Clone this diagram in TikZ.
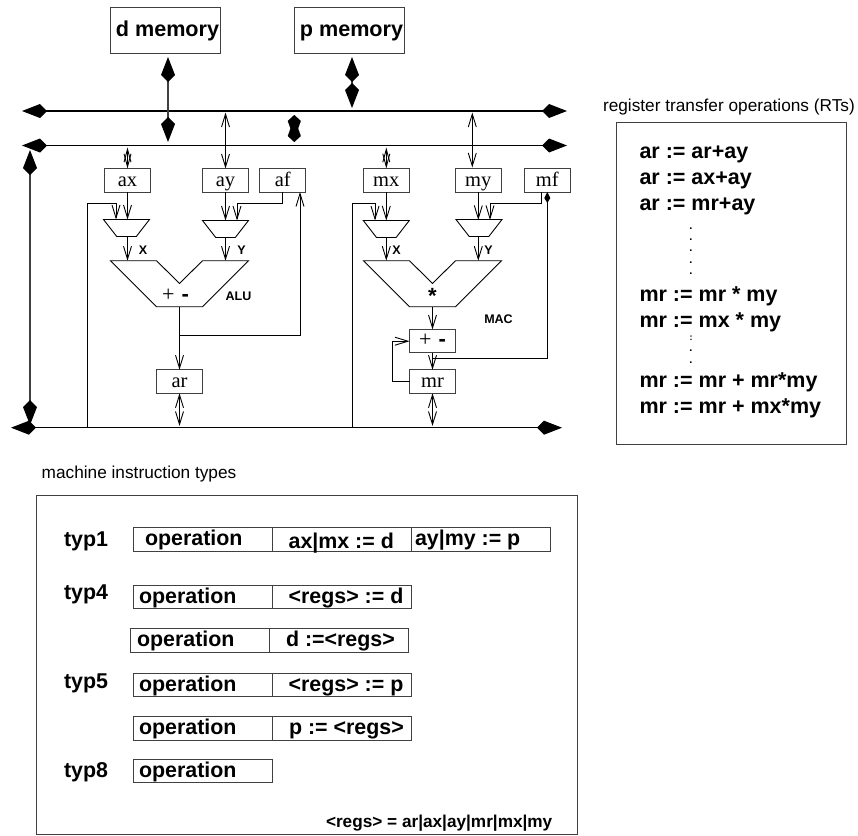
\documentclass[tikz,border=0pt]{standalone}
\usepackage{fontspec}
\setmainfont{Liberation Sans}
\newfontfamily\regfont{Liberation Serif}
\usetikzlibrary{arrows.meta,positioning,shapes.geometric}
\definecolor{wire}{gray}{0.25}
\begin{document}
\begin{tikzpicture}[
  x=1pt,y=-1pt,line join=miter,
  every node/.style={inner sep=0pt,outer sep=0pt},
  membox/.style={draw=wire,line width=1pt,minimum width=110pt,minimum height=46pt,
                 font=\fontsize{21.6}{24}\selectfont\bfseries,text height=16pt,text depth=5pt},
  regbox/.style={draw=wire,line width=1pt,minimum width=46pt,minimum height=23.5pt,
                 font=\fontsize{20.5}{24}\selectfont\regfont,text height=13.5pt,text depth=2pt},
  muxbox/.style={draw,line width=.9pt,trapezium,shape border rotate=180,trapezium stretches=true,
                 trapezium left angle=56,trapezium right angle=56,minimum width=46pt,minimum height=17pt,
                 inner sep=1pt},
  unit/.style={draw,line width=.9pt},
  bus/.style={line width=1.2pt,{Kite[length=25pt,width=14pt,inset=7pt]}-{Kite[length=25pt,width=14pt,inset=7pt]}},
  thickbus/.style={line width=1.5pt,draw=wire,{Kite[length=25pt,width=14pt,inset=7pt,black]}-{Kite[length=25pt,width=14pt,inset=7pt,black]}},
  stubby/.style={line width=.1pt,{Kite[length=24pt,width=13pt,inset=18pt]}-{Kite[length=24pt,width=13pt,inset=18pt]}},
  wired/.style={line width=.9pt},
  onearrow/.style={wired,-{Straight Barb[length=13pt,width=8pt]}},
  twoarrow/.style={wired,{Straight Barb[length=13pt,width=8pt]}-{Straight Barb[length=13pt,width=8pt]}},
  tinyarrow/.style={wired,{Straight Barb[length=13pt,width=7pt]}-{Straight Barb[length=13pt,width=7pt]}},
  smallkite/.style={wired,-{Kite[length=11pt,width=6pt,inset=5pt]}},
  tag/.style={font=\fontsize{12.5}{14}\selectfont\bfseries},
  caption/.style={anchor=base west,font=\fontsize{17.25}{20}\selectfont},
  rtline/.style={anchor=base west,font=\fontsize{21.5}{26}\selectfont\bfseries},
  rtdot/.style={anchor=base,font=\fontsize{11}{12}\selectfont\bfseries},
  frame/.style={draw=wire,line width=1pt,anchor=north west},
  opcell/.style={draw=wire,line width=1pt,minimum width=139pt,minimum height=23.5pt},
  instr/.style={anchor=base west,font=\fontsize{21.4}{24}\selectfont\bfseries},
]
% memories and buses
\node[membox] (dmem) at (165,30.5) {\hspace*{5pt}d memory};
\node[membox] (pmem) at (349,30.5) {\hspace*{5pt}p memory};
\coordinate (bus1w) at (22,111);
\coordinate (bus1e) at (567,111);
\coordinate (bus2w) at (22,145.5);
\coordinate (bus2e) at (567,145.5);
\coordinate (bus3w) at (11,427.7);
\coordinate (bus3e) at (562,427.7);
\draw[bus] (bus1w) -- (bus1e);
\draw[bus] (bus2w) -- (bus2e);
\draw[bus] (bus3w) -- (bus3e);
\coordinate (dtop) at (168,57);
\coordinate (dbot) at (168,142);
\coordinate (ptop) at (352,57);
\coordinate (pbot) at (352,108);
\coordinate (linktop) at (294.3,115);
\coordinate (linkbot) at (294.3,142);
\coordinate (sidetop) at (30,150);
\coordinate (sidebot) at (30,425);
\draw[thickbus] (dtop) -- (dbot);
\draw[thickbus] (ptop) -- (pbot);
\draw[thickbus] (sidetop) -- (sidebot);
\draw[stubby] (linktop) -- (linkbot);

% registers
\node[regbox] (ax) at (127.5,180.25) {ax};
\node[regbox] (ay) at (225.5,180.25) {ay};
\node[regbox] (af) at (282.75,180.25) {af};
\node[regbox] (mx) at (386.3,180.25) {mx};
\node[regbox] (my) at (478.3,180.25) {my};
\node[regbox] (mf) at (547.3,180.25) {mf};
\node[regbox] (ar) at (179.5,381.5) {ar};
\node[regbox] (mr) at (432.5,381.5) {mr};
\node[regbox,font=\fontsize{22}{24}\selectfont\regfont] (addsub) at (432.5,341.2) {+\hspace*{7pt}{\rmfamily\bfseries -}};

% multiplexers
\node[muxbox] (muxax) at (126.5,228) {};
\node[muxbox] (muxay) at (225.5,229) {};
\node[muxbox] (muxmx) at (386.3,229) {};
\node[muxbox] (muxmy) at (479,228) {};

% alu and multiplier
\draw[unit] (110.5,260.7) -- (156.5,260.7) -- (179.5,283.5) -- (202.5,260.7)
  -- (248.5,260.7) -- (202.5,306.7) -- (156.5,306.7) -- cycle;
\draw[unit] (363.5,260.7) -- (409.5,260.7) -- (432.5,283.5) -- (455.5,260.7)
  -- (501.5,260.7) -- (455.5,306.7) -- (409.5,306.7) -- cycle;
\node[font=\fontsize{22}{24}\selectfont\regfont] (aluop) at (175.5,295) {+\hspace*{7pt}{\rmfamily\bfseries -}};
\node[font=\fontsize{22}{24}\selectfont\bfseries] (macop) at (432.5,296) {*};
\node[tag] (xalu) at (143,250.5) {X};
\node[tag] (yalu) at (241.5,250.5) {Y};
\node[tag] (xmac) at (396.5,250.5) {X};
\node[tag] (ymac) at (488.5,250.5) {Y};
\node[tag] (alulabel) at (238.5,296.5) {ALU};
\node[tag] (maclabel) at (498.5,319.5) {MAC};

% register ports on the buses
\coordinate (axport) at (127.5,147.5);
\coordinate (mxport) at (386.3,147.5);
\coordinate (ayport) at (225.5,112.5);
\coordinate (myport) at (472.3,112.5);
\coordinate (mytop) at (472.3,167.5);
\coordinate (arport) at (179.5,426);
\coordinate (mrport) at (432.5,426);
\draw[tinyarrow] (axport) -- (ax.north);
\draw[tinyarrow] (mxport) -- (mx.north);
\draw[twoarrow] (ayport) -- (ay.north);
\draw[twoarrow] (myport) -- (mytop);
\draw[twoarrow] (ar.south) -- (arport);
\draw[twoarrow] (mr.south) -- (mrport);

% into the multiplexers
\coordinate (axin) at (127.5,219.5);
\coordinate (ayin) at (225.5,220.5);
\coordinate (mxin) at (386.3,220.5);
\coordinate (myin) at (478.3,220);
\draw[onearrow] (ax.south) -- (axin);
\draw[onearrow] (ay.south) -- (ayin);
\draw[onearrow] (mx.south) -- (mxin);
\draw[onearrow] (my.south) -- (myin);
\coordinate (axfeed) at (87.5,427.7);
\coordinate (axturn) at (116,203);
\coordinate (axside) at (116,219.5);
\coordinate (mxfeed) at (352.3,427.7);
\coordinate (mxturn) at (375,203);
\coordinate (mxside) at (375,220.5);
\coordinate (ayturn) at (237,203);
\coordinate (ayside) at (237,220.5);
\coordinate (mfout) at (541.7,192);
\coordinate (myturn) at (490,203);
\coordinate (myside) at (490,220);
\draw[onearrow] (axfeed) |- (axturn) -- (axside);
\draw[onearrow] (mxfeed) |- (mxturn) -- (mxside);
\draw[onearrow] (af.south) |- (ayturn) -- (ayside);
\draw[onearrow] (mfout) |- (myturn) -- (myside);

% out of the multiplexers
\coordinate (alua) at (127.5,260.7);
\coordinate (alub) at (225.5,260.7);
\coordinate (maca) at (386.3,260.7);
\coordinate (macb) at (478.3,260.7);
\draw[onearrow] (alua |- muxax.south) -- (alua);
\draw[onearrow] (alub |- muxay.south) -- (alub);
\draw[onearrow] (maca |- muxmx.south) -- (maca);
\draw[onearrow] (macb |- muxmy.south) -- (macb);

% results
\coordinate (aluout) at (179.5,306.7);
\coordinate (alubranch) at (179.5,335.3);
\coordinate (afin) at (300,192);
\draw[onearrow] (aluout) -- (ar.north);
\draw[onearrow] (alubranch) -| (afin);
\coordinate (macout) at (432.5,306.7);
\coordinate (macjoin) at (432.5,358);
\draw[onearrow] (macout) -- (addsub.north);
\draw[onearrow] (addsub.south) -- (mr.north);
\draw[smallkite] (macjoin) -| (mf.south);
\coordinate (fbturn) at (392,381.5);
\coordinate (fbup) at (392,341.2);
\draw[onearrow] (mr.west) -- (fbturn) -- (fbup) -- (addsub.west);

% register transfers
\node[caption] (rtcaption) at (603,111.5) {register transfer operations (RTs)};
\node[frame,minimum width=230pt,minimum height=321.5pt] (rtframe) at (616.7,122.7) {};
\node[rtline] (rt1) at (639.5,158.3) {ar := ar+ay};
\node[rtline] (rt2) at (639.5,184.3) {ar := ax+ay};
\node[rtline] (rt3) at (639.5,210) {ar := mr+ay};
\node[rtline] (rt4) at (639.5,301.7) {mr := mr * my};
\node[rtline] (rt5) at (639.5,327.3) {mr := mx * my};
\node[rtline] (rt6) at (639.5,387.7) {mr := mr + mr*my};
\node[rtline] (rt7) at (639.5,413.3) {mr := mr + mx*my};
\foreach \dy in {229,240,251,263,274,351,363}
  \node[rtdot] (rtdot\dy) at (691,\dy) {.};
\node[rtdot,font=\fontsize{9}{10}\selectfont\bfseries] (rtcolon) at (691,340) {:};

% instruction formats
\node[caption] (instcaption) at (41.7,478) {machine instruction types};
\node[frame,minimum width=540.5pt,minimum height=338.3pt] (instframe) at (36.8,495.7) {};
\node[opcell,anchor=north west] (op1) at (133,527.7) {};
\node[opcell,right=0pt of op1] (arg1a) {};
\node[opcell,right=0pt of arg1a] (arg1b) {};
\node[opcell,anchor=north west] (op4a) at (133,585.3) {};
\node[opcell,right=0pt of op4a] (arg4a) {};
\node[opcell,anchor=north west] (op4b) at (130.5,628.7) {};
\node[opcell,right=0pt of op4b] (arg4b) {};
\node[opcell,anchor=north west] (op5a) at (133,673.3) {};
\node[opcell,right=0pt of op5a] (arg5a) {};
\node[opcell,anchor=north west] (op5b) at (133,716.7) {};
\node[opcell,right=0pt of op5b] (arg5b) {};
\node[opcell,anchor=north west] (op8) at (133,759.3) {};
\node[instr] (typ1) at (64,546) {typ1};
\node[instr] (typ4) at (64,599.3) {typ4};
\node[instr] (typ5) at (64,688.7) {typ5};
\node[instr] (typ8) at (64,777.3) {typ8};
\node[instr] (op1text) at (145,545) {operation};
\node[instr] (arg1atext) at (288.6,548.3) {ax|mx := d};
\node[instr] (arg1btext) at (415,545.7) {ay|my := p};
\node[instr] (op4atext) at (139,603.3) {operation};
\node[instr] (arg4atext) at (288.6,603.3) {<regs> := d};
\node[instr] (op4btext) at (137,646) {operation};
\node[instr] (arg4btext) at (286,646) {d :=<regs>};
\node[instr] (op5atext) at (139,691) {operation};
\node[instr] (arg5atext) at (288.6,691) {<regs> := p};
\node[instr] (op5btext) at (139,734.3) {operation};
\node[instr] (arg5btext) at (289,734.3) {p := <regs>};
\node[instr] (op8text) at (139,777.3) {operation};
\node[anchor=base west,font=\fontsize{17.2}{20}\selectfont\bfseries] (regsnote) at (326,827.7) {<regs> = ar|ax|ay|mr|mx|my};
\useasboundingbox (0,0) rectangle (858,835);
\end{tikzpicture}
\end{document}
